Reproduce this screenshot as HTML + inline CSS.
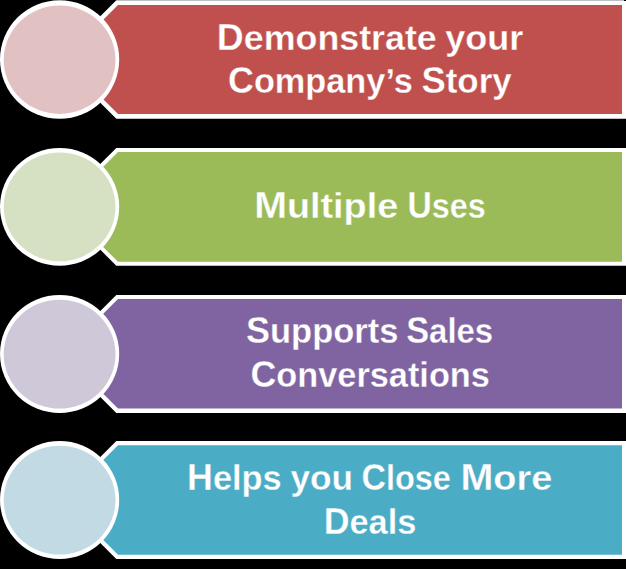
<!DOCTYPE html>
<html><head><meta charset="utf-8"><style>
html,body{margin:0;padding:0;background:#000;}
svg{display:block;}
text{font-family:"Liberation Sans",sans-serif;font-weight:bold;font-size:35.0px;fill:#fff;}
</style></head><body>
<svg width="626" height="569" viewBox="0 0 626 569">
<rect width="626" height="569" fill="#000"/>
<path d="M57.05,59.55 L116.30,0.30 L630,0.30 L630,118.80 L116.30,118.80 Z" fill="#fff"/>
<path d="M63.50,59.50 L118.00,5.00 L622.00,5.00 L622.00,114.00 L118.00,114.00 Z" fill="#C0504D"/>
<ellipse cx="59.6" cy="59.50" rx="59.6" ry="59.30" fill="#fff"/>
<ellipse cx="59.6" cy="59.75" rx="55.9" ry="54.25" fill="#E2C1C3"/>
<path d="M57.45,206.85 L116.30,148.00 L630,148.00 L630,265.70 L116.30,265.70 Z" fill="#fff"/>
<path d="M63.10,206.90 L118.00,152.00 L622.00,152.00 L622.00,261.80 L118.00,261.80 Z" fill="#9BBB59"/>
<ellipse cx="59.6" cy="206.80" rx="59.6" ry="58.90" fill="#fff"/>
<ellipse cx="59.6" cy="206.85" rx="55.9" ry="54.45" fill="#D6E0C3"/>
<path d="M57.25,353.95 L116.30,294.90 L630,294.90 L630,413.00 L116.30,413.00 Z" fill="#fff"/>
<path d="M63.25,353.85 L118.00,299.10 L622.00,299.10 L622.00,408.60 L118.00,408.60 Z" fill="#8064A2"/>
<ellipse cx="59.6" cy="353.95" rx="59.6" ry="59.05" fill="#fff"/>
<ellipse cx="59.6" cy="354.15" rx="55.9" ry="54.45" fill="#CEC8D9"/>
<path d="M57.25,499.95 L116.30,440.90 L630,440.90 L630,559.00 L116.30,559.00 Z" fill="#fff"/>
<path d="M63.20,500.00 L118.00,445.20 L622.00,445.20 L622.00,554.80 L118.00,554.80 Z" fill="#4BACC6"/>
<ellipse cx="59.6" cy="499.95" rx="59.6" ry="59.05" fill="#fff"/>
<ellipse cx="59.6" cy="500.15" rx="55.9" ry="54.45" fill="#C2DAE3"/>
<text stroke="#C0504D" stroke-width="0.3" x="216.85" y="50.00" textLength="219.95" lengthAdjust="spacingAndGlyphs"><tspan style="font-size:36.5px">D</tspan>emonstrate</text>
<text stroke="#C0504D" stroke-width="0.3" x="445.26" y="50.00" textLength="78.10" lengthAdjust="spacingAndGlyphs">your</text>
<text stroke="#C0504D" stroke-width="0.3" x="228.05" y="93.00" textLength="184.71" lengthAdjust="spacingAndGlyphs"><tspan style="font-size:36.5px">C</tspan>ompany’s</text>
<text stroke="#C0504D" stroke-width="0.3" x="421.45" y="93.00" textLength="90.21" lengthAdjust="spacingAndGlyphs"><tspan style="font-size:36.5px">S</tspan>tory</text>
<text stroke="#9BBB59" stroke-width="0.3" x="254.15" y="218.00" textLength="144.03" lengthAdjust="spacingAndGlyphs"><tspan style="font-size:36.5px">M</tspan>ultiple</text>
<text stroke="#9BBB59" stroke-width="0.3" x="407.45" y="218.00" textLength="78.23" lengthAdjust="spacingAndGlyphs"><tspan style="font-size:36.5px">U</tspan>ses</text>
<text stroke="#8064A2" stroke-width="0.3" x="246.01" y="343.00" textLength="152.38" lengthAdjust="spacingAndGlyphs"><tspan style="font-size:36.5px">S</tspan>upports</text>
<text stroke="#8064A2" stroke-width="0.3" x="406.23" y="343.00" textLength="86.90" lengthAdjust="spacingAndGlyphs"><tspan style="font-size:36.5px">S</tspan>ales</text>
<text stroke="#8064A2" stroke-width="0.3" x="250.53" y="387.00" textLength="239.39" lengthAdjust="spacingAndGlyphs"><tspan style="font-size:36.5px">C</tspan>onversations</text>
<text stroke="#4BACC6" stroke-width="0.3" x="187.11" y="490.00" textLength="94.48" lengthAdjust="spacingAndGlyphs"><tspan style="font-size:36.5px">H</tspan>elps</text>
<text stroke="#4BACC6" stroke-width="0.3" x="290.51" y="490.00" textLength="62.55" lengthAdjust="spacingAndGlyphs">you</text>
<text stroke="#4BACC6" stroke-width="0.3" x="361.55" y="490.00" textLength="89.33" lengthAdjust="spacingAndGlyphs"><tspan style="font-size:36.5px">C</tspan>lose</text>
<text stroke="#4BACC6" stroke-width="0.3" x="460.48" y="490.00" textLength="91.77" lengthAdjust="spacingAndGlyphs"><tspan style="font-size:36.5px">M</tspan>ore</text>
<text stroke="#4BACC6" stroke-width="0.3" x="323.66" y="534.00" textLength="92.65" lengthAdjust="spacingAndGlyphs"><tspan style="font-size:36.5px">D</tspan>eals</text>
<rect x="624" y="0" width="2" height="1" fill="#000"/>
</svg>
</body></html>
